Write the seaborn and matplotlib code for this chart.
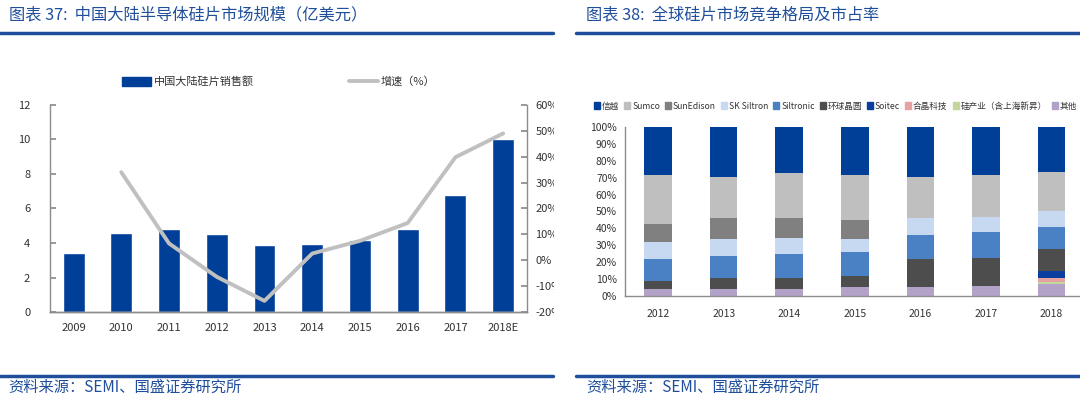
import numpy as np
import pandas as pd
import matplotlib.pyplot as plt
import seaborn as sns
from matplotlib.lines import Line2D
from matplotlib.patches import Patch
from matplotlib.transforms import Bbox, TransformedBbox

sns.set_theme(style="white")
plt.rcParams["font.family"] = ["Noto Sans CJK SC", "DejaVu Sans"]
plt.rcParams["axes.unicode_minus"] = False

# 图表37 数据
years = ["2009", "2010", "2011", "2012", "2013", "2014", "2015", "2016", "2017", "2018E"]
sales = [3.42, 4.55, 4.8, 4.5, 3.9, 3.95, 4.2, 4.8, 6.8, 10.0]
growth = [np.nan, 34, 6.5, -6.4, -15.7, 2.6, 7.5, 14.4, 39.8, 49]

# 图表38 数据
share_years = [2012, 2013, 2014, 2015, 2016, 2017, 2018]
companies = ["信越", "Sumco", "SunEdison", "SK Siltron", "Siltronic", "环球晶圆",
             "Soitec", "合晶科技", "硅产业（含上海新昇）", "其他"]
shin_etsu = [28.5, 29.5, 27.2, 28.5, 29.5, 28.5, 26.6]
sumco = [29.0, 24.6, 26.9, 26.8, 24.6, 24.6, 23.2]
sunedison = [10.5, 12.2, 11.3, 11.0, 0, 0, 0]
sk_siltron = [10.0, 10.1, 9.6, 7.9, 9.9, 8.9, 9.6]
siltronic = [13.0, 12.8, 14.2, 14.0, 14.1, 15.4, 12.8]
globalwafers = [5.0, 6.8, 6.8, 6.7, 16.8, 16.7, 12.8]
soitec = [0, 0, 0, 0, 0, 0, 4.2]
wafer_works = [0, 0, 0, 0, 0, 0, 2.3]
nsig = [0, 0, 0, 0, 0, 0, 1.6]
others = [4.0, 4.0, 4.0, 5.1, 5.1, 5.9, 6.9]
share_colors = ["#003f98", "#bfbfbf", "#808080", "#c6d9f1", "#4a80c4", "#4d4d4d",
                "#0a3fa0", "#e6a1a1", "#c3d69b", "#b3a2c7"]

blue = "#003f98"
title_blue = "#1f4e9b"
spine_gray = "#8c8c8c"

fig = plt.figure(figsize=(10.8, 3.99), dpi=100)

# ---------- 左图 ----------
ax1 = fig.add_axes([0.046, 0.218, 0.442, 0.519])
df1 = pd.DataFrame({"year": years, "sales": sales, "growth": growth,
                    "pos": np.arange(len(years))})
sns.barplot(data=df1, x="year", y="sales", color=blue, saturation=1,
            width=0.46, ax=ax1)
ax1.set_ylim(0, 12)
ax1.set_yticks(range(0, 13, 2))
ax1.set_xlim(-0.5, len(years) - 0.5)
ax1.set_xlabel("")
ax1.set_ylabel("")

ax2 = ax1.twinx()
sns.lineplot(data=df1.dropna(), x="pos", y="growth", color="#c0c0c0",
             linewidth=2.8, ax=ax2)
ax2.set_ylim(-20, 60)
ax2.set_yticks(range(-20, 61, 10))
ax2.set_yticklabels([f"{v}%" for v in range(-20, 61, 10)])
ax2.set_xlim(-0.5, len(years) - 0.5)
ax2.set_xlabel("")
ax2.set_ylabel("")

for a in (ax1, ax2):
    for s in a.spines.values():
        s.set_color(spine_gray)
        s.set_linewidth(1)
    a.spines["top"].set_visible(False)
    a.tick_params(direction="in", length=4, color=spine_gray, labelsize=8,
                  labelcolor="#333333", pad=6)
ax2.spines["left"].set_visible(False)
ax1.spines["right"].set_visible(False)
ax1.set_xticks(np.arange(len(years)))
ax1.set_xticklabels(years)
ax1.tick_params(axis="x", length=0, pad=8)
ax1.set_xticks(np.arange(len(years) - 1) + 0.5, minor=True)
ax1.tick_params(axis="x", which="minor", direction="in", length=4, color=spine_gray)
ax1.yaxis.set_tick_params(pad=14)

clip = TransformedBbox(Bbox([[0, 0], [0.513, 1]]), fig.transFigure)
for t in ax2.yaxis.get_major_ticks():
    t.label2.set_clip_box(clip)
    t.label2.set_clip_on(True)

h1 = [Patch(color=blue), Line2D([], [], color="#c0c0c0", linewidth=2.8)]
ax1.legend(h1, ["中国大陆硅片销售额", "增速（%）"], ncol=2, frameon=False,
           loc="center", bbox_to_anchor=(0.258, 0.795), bbox_transform=fig.transFigure,
           fontsize=8, handlelength=2.6, handleheight=0.9, columnspacing=8.5,
           handletextpad=0.3, labelcolor="#333333")

# ---------- 右图 ----------
ax3 = fig.add_axes([0.579, 0.258, 0.425, 0.424])
share_cols = [shin_etsu, sumco, sunedison, sk_siltron, siltronic, globalwafers,
              soitec, wafer_works, nsig, others]
df2 = pd.DataFrame({name: vals for name, vals in zip(companies, share_cols)})
df2["year"] = share_years
df2 = df2.melt(id_vars="year", var_name="company", value_name="share")
sns.histplot(data=df2, x="year", weights="share", hue="company", hue_order=companies,
             palette=share_colors, multiple="stack", discrete=True, shrink=0.42,
             alpha=1, linewidth=0, legend=False, ax=ax3)
ax3.set_ylim(0, 100)
ax3.set_yticks(range(0, 101, 10))
ax3.set_yticklabels([f"{v}%" for v in range(0, 101, 10)])
ax3.set_xlim(share_years[0] - 0.5, share_years[-1] + 0.5)
ax3.set_xticks(share_years)
ax3.set_xticklabels([str(y) for y in share_years])
ax3.set_xticks(np.array(share_years[:-1]) + 0.5, minor=True)
ax3.set_xlabel("")
ax3.set_ylabel("")
for s in ax3.spines.values():
    s.set_color(spine_gray)
    s.set_linewidth(1)
ax3.spines["top"].set_visible(False)
ax3.spines["right"].set_visible(False)
ax3.tick_params(axis="y", direction="in", length=4, color=spine_gray, labelsize=7.5,
                labelcolor="#333333", pad=4)
ax3.yaxis.set_tick_params(pad=6)
ax3.tick_params(axis="x", which="major", length=0, labelsize=7.5, labelcolor="#333333", pad=9)
ax3.tick_params(axis="x", which="minor", direction="out", length=4, color=spine_gray)

h3 = [Patch(color=c) for c in share_colors]
ax3.legend(h3, companies, ncol=10, frameon=False, loc="upper left",
           bbox_to_anchor=(0.543, 0.765), bbox_transform=fig.transFigure,
           fontsize=6.2, handlelength=0.7, handleheight=0.7, columnspacing=0.6,
           handletextpad=0.2, labelcolor="#333333")

# ---------- 标题、分隔线、来源 ----------
fig.text(0.008, 0.962, "图表 37:  中国大陆半导体硅片市场规模（亿美元）", color=title_blue,
         fontsize=11.7, style="italic", va="center")
fig.text(0.543, 0.962, "图表 38:  全球硅片市场竞争格局及市占率", color=title_blue,
         fontsize=11.7, style="italic", va="center")
for x0, x1 in [(0.0, 0.512), (0.533, 1.0)]:
    for yy in (0.917, 0.058):
        fig.add_artist(Line2D([x0, x1], [yy, yy], transform=fig.transFigure,
                              color=title_blue, linewidth=2.5))
fig.text(0.008, 0.03, "资料来源：SEMI、国盛证券研究所", color=title_blue,
         fontsize=11, style="italic", va="center")
fig.text(0.543, 0.03, "资料来源：SEMI、国盛证券研究所", color=title_blue,
         fontsize=11, style="italic", va="center")

fig.savefig("out.png", dpi=100)
